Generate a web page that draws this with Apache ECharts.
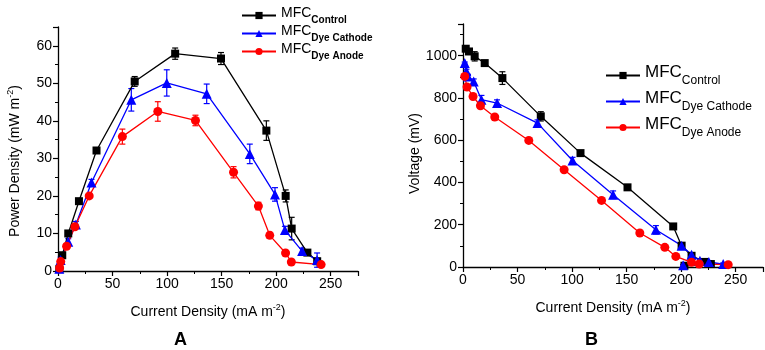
<!DOCTYPE html>
<html>
<head>
<meta charset="utf-8">
<script src="https://cdn.jsdelivr.net/npm/echarts@6/dist/echarts.min.js"></script>
<style>html,body{margin:0;padding:0;background:#fff}#c{width:765px;height:350px}</style>
</head>
<body>
<div id="c"></div>
<script>
// ---------- Panel A: power density ----------
const powerControl = [[1.2,0.5],[3.9,4.2],[9.4,10],[19.2,18.6],[35.3,32.1],[70.3,50.5],[107.4,57.9],[149.4,56.6],[191,37.4],[208.7,20],[214.2,11.3],[228.6,4.9],[237.6,2.6]];
const powerControlErr = [0,0.5,0.5,0.6,0.6,1.3,1.5,1.6,2.6,1.6,3,0.6,0.8];
const powerCathode = [[1.2,0.6],[2.4,2.9],[9.4,7.8],[16.4,12.4],[30.7,23.6],[67.2,45.6],[99.7,50.1],[136.3,47.2],[175.8,31.2],[198.9,20.4],[208,10.9],[223.8,5.3],[237.5,2.9]];
const powerCathodeErr = [0.4,0.8,0.8,0.8,0.8,3,3.5,2.6,2.6,1.8,1,0.8,1.9];
const powerAnode = [[1.5,0.8],[2.5,2.5],[7.9,6.6],[15.5,11.8],[28.6,20],[59,35.8],[91.5,42.5],[126,40.1],[160.9,26.3],[183.7,17.3],[194.1,9.5],[208.6,4.8],[213.9,2.4],[241.2,1.7]];
const powerAnodeErr = [0.3,0.5,0.5,0.5,0.6,2,2.6,1.4,1.5,1,0.8,0.5,0.5,0.4];

// ---------- Panel B: voltage ----------
const voltControl = [[2.5,1033],[5.5,1020],[10.7,997],[19.9,965],[36.1,894],[71.3,713],[107.7,539],[150.8,377],[192.7,192],[200.4,101],[209.5,53],[221.7,24],[227.2,14],[203,6]];
const voltControlErr = [10,10,22,10,30,22,10,10,12,10,10,8,8,5];
const voltCathode = [[1.6,965],[3.1,926],[4.6,902],[9.8,878],[16.9,792],[31.2,776],[68.3,681],[100.4,504],[137.6,342],[176.8,176],[200.4,101],[209.5,58],[217.2,30],[225.4,24],[238.5,14],[201.8,8]];
const voltCathodeErr = [5,10,10,12,20,15,15,15,18,20,12,8,6,6,5,4];
const voltAnode = [[1.6,902],[3.7,852],[9.2,807],[16,763],[29.1,710],[60.3,599],[92.7,460],[127,315],[162.1,161],[185,93],[195.1,50],[209.5,22],[216.5,14],[243.1,11]];
const voltAnodeErr = [8,8,8,8,8,8,8,8,8,8,8,6,6,5];

const xTicksMax = 275;
const legendNames = ['MFC Control','MFC Dye Cathode','MFC Dye Anode'];
const legendSubs = {'MFC Control':'Control','MFC Dye Cathode':'Dye Cathode','MFC Dye Anode':'Dye Anode'};

const FONT = '"Liberation Sans", Arial, sans-serif';
const BLACK = '#000000', BLUE = '#0000ff', RED = '#ff0000';

function errData(pts, err){ return pts.map((p,i)=>[p[0], p[1]-err[i], p[1]+err[i]]); }
function errSeries(pts, err, color, xi){
  return {
    type:'custom', xAxisIndex:xi, yAxisIndex:xi, silent:true, z:1,
    data: errData(pts, err),
    encode:{x:0, y:[1,2]},
    renderItem: function(params, api){
      const lo = api.coord([api.value(0), api.value(1)]);
      const hi = api.coord([api.value(0), api.value(2)]);
      const w = 3;
      const st = {stroke:color, lineWidth:1.2};
      return {type:'group', children:[
        {type:'line', shape:{x1:lo[0],y1:lo[1],x2:hi[0],y2:hi[1]}, style:st},
        {type:'line', shape:{x1:lo[0]-w,y1:lo[1],x2:lo[0]+w,y2:lo[1]}, style:st},
        {type:'line', shape:{x1:hi[0]-w,y1:hi[1],x2:hi[0]+w,y2:hi[1]}, style:st}
      ]};
    }
  };
}
function lineSeries(name, pts, color, symbol, size, xi){
  return {
    name:name, type:'line', xAxisIndex:xi, yAxisIndex:xi, data:pts, z:2,
    symbol:symbol, symbolSize:size, showSymbol:true,
    lineStyle:{color:color, width:1.3}, itemStyle:{color:color},
    emphasis:{disabled:true}, animation:false
  };
}
const axisCommon = {
  axisLine:{show:true, onZero:false, lineStyle:{color:BLACK, width:1.3}},
  axisTick:{show:true, inside:false, length:5, lineStyle:{color:BLACK, width:1.2}},
  minorTick:{show:true, splitNumber:2, length:3, lineStyle:{color:BLACK, width:1}},
  splitLine:{show:false},
  axisLabel:{color:BLACK, fontSize:14, fontFamily:FONT, margin:6, showMaxLabel:false}
};
function cloneAxis(){
  const a = JSON.parse(JSON.stringify(axisCommon));
  a.axisLabel.formatter = v => String(v);
  return a;
}
function xAxisDef(gi){
  return Object.assign(cloneAxis(), {
    type:'value', gridIndex:gi, min:0, max:xTicksMax, interval:50,
    name:'{a|Current Density (mA m}{b|-2}{a|)}', nameLocation:'middle', nameGap:32,
    nameTextStyle:{color:BLACK, fontFamily:FONT, rich:{
      a:{fontSize:14, fontFamily:FONT, color:BLACK, verticalAlign:'bottom'},
      b:{fontSize:9, fontFamily:FONT, color:BLACK, verticalAlign:'bottom', padding:[0,0,7,0]}
    }}
  });
}
function legendDef(left, top, gap, mainSize, subSize, subWeight, lift){
  return {
    orient:'vertical', left:left, top:top, itemGap:gap, itemWidth:34, itemHeight:9, padding:0,
    data:legendNames, selectedMode:false,
    formatter: n => '{m|MFC}{s|' + legendSubs[n] + '}',
    textStyle:{color:BLACK, fontFamily:FONT, rich:{
      m:{fontSize:mainSize, fontFamily:FONT, color:BLACK, verticalAlign:'bottom', padding:[0,0,lift,0]},
      s:{fontSize:subSize, fontFamily:FONT, color:BLACK, fontWeight:subWeight, verticalAlign:'bottom'}
    }}
  };
}

const chart = echarts.init(document.getElementById('c'), null, {renderer:'canvas'});
chart.setOption({
  animation:false,
  backgroundColor:'#ffffff',
  grid:[
    {left:58, top:27, width:300, height:244},
    {left:463, top:24, width:300, height:243}
  ],
  xAxis:[xAxisDef(0), xAxisDef(1)],
  yAxis:[
    Object.assign(cloneAxis(), {
      type:'value', gridIndex:0, min:0, max:65, interval:10,
      name:'{a|Power Density (mW m}{b|-2}{a|)}', nameLocation:'middle', nameGap:36,
      nameTextStyle:{color:BLACK, fontFamily:FONT, padding:[0,24,0,0], rich:{
        a:{fontSize:14, fontFamily:FONT, color:BLACK, verticalAlign:'bottom'},
        b:{fontSize:9, fontFamily:FONT, color:BLACK, verticalAlign:'bottom', padding:[0,0,7,0]}
      }}
    }),
    Object.assign(cloneAxis(), {
      type:'value', gridIndex:1, min:0, max:1150, interval:200,
      name:'Voltage (mV)', nameLocation:'middle', nameGap:41,
      nameTextStyle:{color:BLACK, fontFamily:FONT, fontSize:14, padding:[0,16,0,0]}
    })
  ],
  legend:[
    legendDef(241, 6, -1, 14, 10, 'bold', 5),
    legendDef(605, 64, 3, 17, 12, 'normal', 6)
  ],
  graphic:[
    {type:'text', left:174, top:331, style:{text:'A', fontSize:18, fontWeight:'bold', fontFamily:FONT, fill:BLACK}},
    {type:'text', left:585, top:331, style:{text:'B', fontSize:18, fontWeight:'bold', fontFamily:FONT, fill:BLACK}}
  ],
  series:[
    errSeries(powerControl, powerControlErr, BLACK, 0),
    errSeries(powerCathode, powerCathodeErr, BLUE, 0),
    errSeries(powerAnode, powerAnodeErr, RED, 0),
    lineSeries('MFC Control', powerControl, BLACK, 'rect', 8, 0),
    lineSeries('MFC Dye Cathode', powerCathode, BLUE, 'triangle', 10, 0),
    lineSeries('MFC Dye Anode', powerAnode, RED, 'circle', 9, 0),
    errSeries(voltControl, voltControlErr, BLACK, 1),
    errSeries(voltCathode, voltCathodeErr, BLUE, 1),
    errSeries(voltAnode, voltAnodeErr, RED, 1),
    lineSeries('MFC Control', voltControl, BLACK, 'rect', 8, 1),
    lineSeries('MFC Dye Cathode', voltCathode, BLUE, 'triangle', 10, 1),
    lineSeries('MFC Dye Anode', voltAnode, RED, 'circle', 9, 1)
  ]
});
</script>
</body>
</html>
